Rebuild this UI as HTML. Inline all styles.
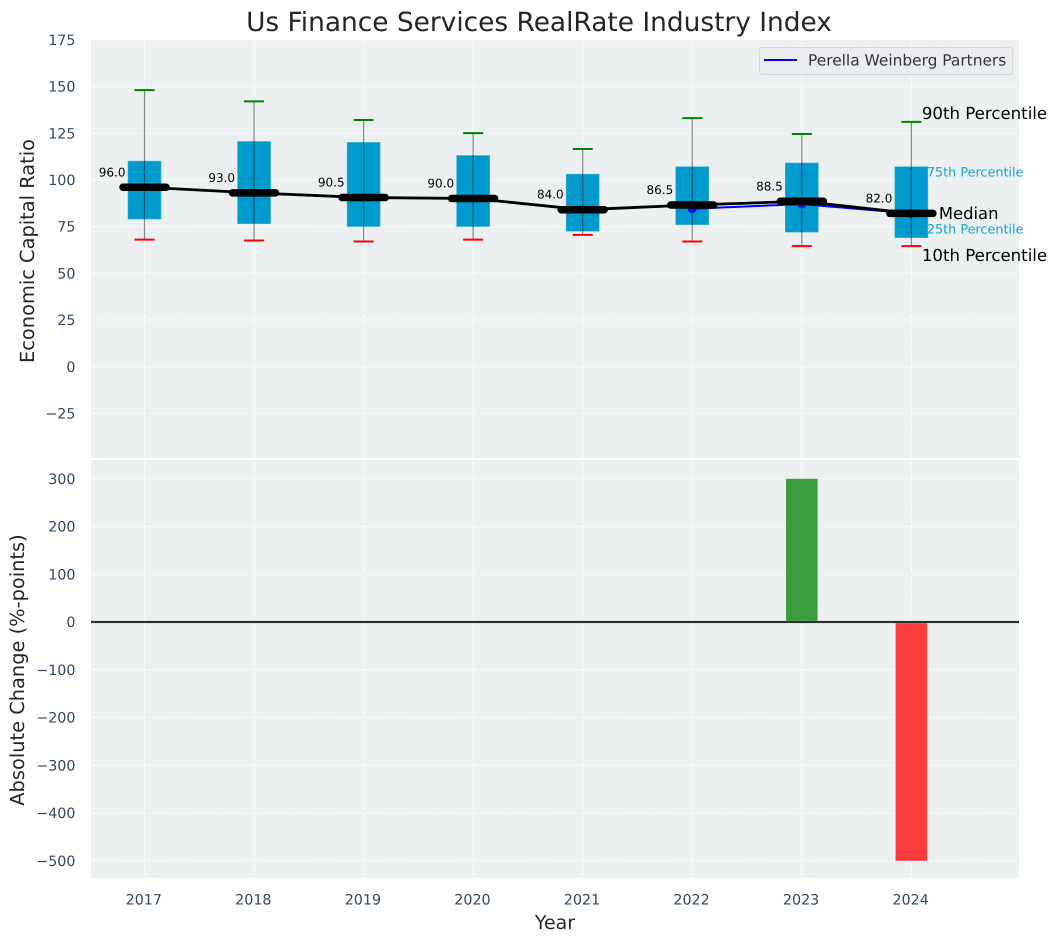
<!DOCTYPE html>
<html lang="en">
<head>
<meta charset="utf-8">
<title>Us Finance Services RealRate Industry Index</title>
<style>
html,body{margin:0;padding:0;background:#fff;width:1057px;height:942px;overflow:hidden}
svg{display:block;font-family:"DejaVu Sans","Liberation Sans",sans-serif;text-rendering:geometricPrecision}
</style>
</head>
<body>
<svg id="chart" xmlns="http://www.w3.org/2000/svg" width="1057" height="942" viewBox="0 0 1057 942">
  <rect x="91" y="40" width="928" height="418" fill="#ecf0f1"/>
  <rect x="91" y="460" width="928" height="418" fill="#ecf0f1"/>
  <g id="grid"></g>
  <g id="bars"></g>
  <g id="boxes"></g>
  <g id="lines"></g>
  <g id="ticks"></g>
  <g id="notes"></g>
  <text x="539" y="31" font-size="26.4" fill="#262626" text-anchor="middle">Us Finance Services RealRate Industry Index</text>
  <text transform="translate(34,251) rotate(-90)" font-size="19.4" fill="#262626" text-anchor="middle">Economic Capital Ratio</text>
  <text transform="translate(24,670) rotate(-90)" font-size="19.4" fill="#262626" text-anchor="middle">Absolute Change (%-points)</text>
  <text x="555" y="929" font-size="19" fill="#262626" text-anchor="middle">Year</text>
  <g>
    <rect x="759.5" y="47.5" width="253" height="27" rx="3" fill="#ebedf1" stroke="#d6d8dc"/>
    <line x1="764" x2="797" y1="60" y2="60" stroke="#0000ff" stroke-width="2"/>
    <text x="808" y="65.7" font-size="15.4" fill="#333">Perella Weinberg Partners</text>
  </g>
</svg>
<script>
const years = [2017, 2018, 2019, 2020, 2021, 2022, 2023, 2024];
const p90 = [148, 142, 132, 125, 116.5, 133, 124.5, 131];
const p75 = [110, 120.5, 120, 113, 103, 107, 109, 107];
const medians = [96, 93, 90.5, 90, 84, 86.5, 88.5, 82];
const p25 = [79, 76.5, 75, 75, 72.5, 76, 72, 69];
const p10 = [68, 67.5, 67, 68, 70.5, 67, 64.5, 64.5];
const companyYears = [2022, 2023, 2024];
const companyValues = [84.5, 87, 82];
const changeYears = [2023, 2024];
const changeValues = [300, -500];
const topTicks = [175, 150, 125, 100, 75, 50, 25, 0, -25];
const bottomTicks = [300, 200, 100, 0, -100, -200, -300, -400, -500];

const NS = 'http://www.w3.org/2000/svg';
const xScale = y => 144.5 + (y - 2017) * 109.55;
const yTop = v => 366.6 - v * 1.868;
const yBot = v => 622 - v * 0.4775;
const BOX = 33, CAP = 20, MED = 43, BAR = 31.5;

function mk(parent, tag, props, text) {
  const el = document.createElementNS(NS, tag);
  for (const k in props) el.setAttribute(k, props[k]);
  if (text !== undefined) el.textContent = text;
  parent.appendChild(el);
  return el;
}
const grid = document.getElementById('grid');
const bars = document.getElementById('bars');
const boxes = document.getElementById('boxes');
const lines = document.getElementById('lines');
const ticks = document.getElementById('ticks');
const notes = document.getElementById('notes');
const gridStyle = {stroke: '#fff', 'stroke-width': 1, 'stroke-dasharray': '5 2.2', opacity: 0.85};
const fmt = v => String(v).replace('-', '\u2212');

topTicks.forEach(t => {
  const g = mk(grid, 'line', {x1: 91, x2: 1019, y1: yTop(t), y2: yTop(t), ...gridStyle});
  
  
  const l = mk(ticks, 'text', {x: 75.5, y: yTop(t) + 5.2, 'font-size': 14.3, fill: '#34495e', 'text-anchor': 'end'}, fmt(t));
  
  
});
bottomTicks.forEach(t => {
  const g = mk(grid, 'line', {x1: 91, x2: 1019, y1: yBot(t), y2: yBot(t), ...gridStyle});
  
  
  const l = mk(ticks, 'text', {x: 75.5, y: yBot(t) + 5.2, 'font-size': 14.3, fill: '#34495e', 'text-anchor': 'end'}, fmt(t));
  
  
});
years.forEach(y => {
  const v1 = mk(grid, 'line', {x1: xScale(y), x2: xScale(y), y1: 40, y2: 458, ...gridStyle});
  
  
  const v2 = mk(grid, 'line', {x1: xScale(y), x2: xScale(y), y1: 460, y2: 878, ...gridStyle});
  
  
  const l = mk(ticks, 'text', {x: xScale(y) - 0.7, y: 904.5, 'font-size': 14.3, fill: '#34495e', 'text-anchor': 'middle'}, String(y));
  
  
});

changeYears.forEach((y, i) => {
  const v = changeValues[i];
  const r = mk(bars, 'rect', {
    x: xScale(y) - BAR / 2, y: Math.min(yBot(v), yBot(0)), width: BAR,
    height: Math.abs(yBot(v) - yBot(0)),
    fill: v >= 0 ? 'rgba(0,128,0,.75)' : 'rgba(255,0,0,.75)'
  });
  
  
});
const zeroBack = mk(bars, 'line', {x1: 91, x2: 1019, y1: yBot(0), y2: yBot(0), stroke: '#bbb', 'stroke-width': 2.4});


const zero = mk(bars, 'line', {x1: 91, x2: 1019, y1: yBot(0), y2: yBot(0), stroke: '#000', 'stroke-width': 1.4});



years.forEach((y, i) => {
  const cx = xScale(y);
  const box = mk(boxes, 'rect', {x: cx - BOX / 2, y: yTop(p75[i]), width: BOX, height: yTop(p25[i]) - yTop(p75[i]), fill: '#009bcc', stroke: '#3fb2d8', 'stroke-width': 0.6});
  
  
  const w = mk(boxes, 'line', {x1: cx, x2: cx, y1: yTop(p90[i]), y2: yTop(p10[i]), stroke: '#000', 'stroke-opacity': 0.45, 'stroke-width': 1.2});
  
  
  const hi = mk(boxes, 'line', {x1: cx - CAP / 2, x2: cx + CAP / 2, y1: yTop(p90[i]), y2: yTop(p90[i]), stroke: '#008000', 'stroke-width': 2});
  
  
  const lo = mk(boxes, 'line', {x1: cx - CAP / 2, x2: cx + CAP / 2, y1: yTop(p10[i]), y2: yTop(p10[i]), stroke: '#ff0000', 'stroke-width': 2});
  
  
});

const companyLine = mk(lines, 'polyline', {
  points: companyYears.map((y, i) => xScale(y) + ',' + yTop(companyValues[i])).join(' '),
  fill: 'none', stroke: '#0000ff', 'stroke-width': 2
});


companyYears.forEach((y, i) => {
  const d = mk(lines, 'circle', {cx: xScale(y), cy: yTop(companyValues[i]), r: 4.5, fill: '#0000ff', 'fill-opacity': 0.85});
  
  
});
const medianLine = mk(lines, 'polyline', {
  points: years.map((y, i) => xScale(y) + ',' + yTop(medians[i])).join(' '),
  fill: 'none', stroke: '#000', 'stroke-width': 2.8
});


years.forEach((y, i) => {
  const cx = xScale(y), my = yTop(medians[i]);
  const m = mk(lines, 'line', {x1: cx - MED / 2, x2: cx + MED / 2, y1: my, y2: my, stroke: '#000', 'stroke-width': 7.5, 'stroke-linecap': 'round'});
  
  
  const lbl = mk(lines, 'text', {x: cx - 19, y: my - 11, 'font-size': 12, fill: '#000', 'text-anchor': 'end'}, medians[i].toFixed(1));
  
  
});

const last = years.length - 1;
const lastX = xScale(years[last]);
const n90 = mk(notes, 'text', {x: lastX + 10.5, y: yTop(p90[last]) - 3, 'font-size': 16.6, fill: '#000'}, '90th Percentile');


const n75 = mk(notes, 'text', {x: lastX + 15.5, y: yTop(p75[last]) + 10, 'font-size': 12.8, fill: '#17a2d0'}, '75th Percentile');


const nMed = mk(notes, 'text', {x: lastX + 27.5, y: yTop(medians[last]) + 5.8, 'font-size': 16.4, fill: '#000'}, 'Median');


const n25 = mk(notes, 'text', {x: lastX + 15.5, y: yTop(p25[last]) - 4, 'font-size': 12.8, fill: '#17a2d0'}, '25th Percentile');


const n10 = mk(notes, 'text', {x: lastX + 10.5, y: yTop(p10[last]) + 15, 'font-size': 16.6, fill: '#000'}, '10th Percentile');


</script>
</body>
</html>
